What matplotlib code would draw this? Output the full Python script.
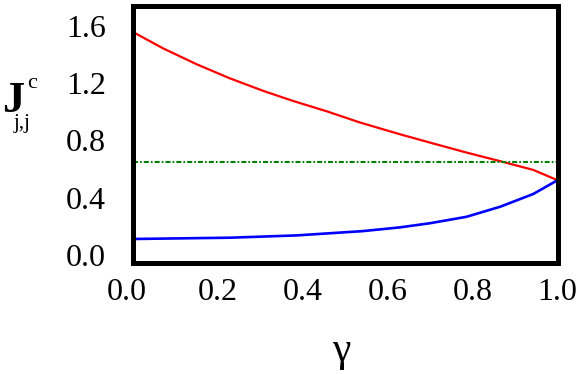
import matplotlib
matplotlib.use("Agg")
import matplotlib.pyplot as plt
import matplotlib.transforms as mtransforms

# values
gamma_red = [0.0, 0.072, 0.151, 0.229, 0.308, 0.378, 0.457, 0.535, 0.629,
             0.708, 0.786, 0.865, 0.943, 1.0]
j_red = [1.558, 1.442, 1.331, 1.233, 1.145, 1.075, 1.003, 0.925, 0.843,
         0.778, 0.715, 0.655, 0.594, 0.522]

gamma_blue = [0.0, 0.229, 0.386, 0.542, 0.629, 0.700, 0.786, 0.865, 0.943, 1.0]
j_blue = [0.112, 0.121, 0.137, 0.167, 0.193, 0.222, 0.267, 0.337, 0.426, 0.522]

j_green = 0.647

xticks = [0.0, 0.2, 0.4, 0.6, 0.8, 1.0]
yticks = [0.0, 0.4, 0.8, 1.2, 1.6]

plt.rcParams["font.family"] = ["Liberation Serif", "DejaVu Serif"]

fig = plt.figure(figsize=(5.81, 3.74), dpi=100)
ax = fig.add_axes([132.5 / 581, 1 - 262.5 / 374, (557.5 - 132.5) / 581,
                   (262.5 - 5.8) / 374])

ax.plot(gamma_red, j_red, color="#ff0000", lw=1.6)
ax.plot(gamma_blue, j_blue, color="#0000ff", lw=1.9)
ax.axhline(j_green, color="#008000", lw=1.5, dashes=(2.4, 1.0, 0.8, 1.0))

ax.set_xlim(0, 1)
ax.set_ylim(-0.052, 1.739)
ax.set_xticks(xticks)
ax.set_xticklabels([f"{t:.1f}" for t in xticks])
ax.set_yticks(yticks)
ax.set_yticklabels([f"{t:.1f}" for t in yticks])
ax.tick_params(length=0, labelsize=23)
ax.tick_params(axis="x", pad=11)
ax.tick_params(axis="y", pad=19)
for s in ax.spines.values():
    s.set_linewidth(3.6)

# the "0.0" under the x axis sits a little left of its tick
lbl0 = ax.get_xticklabels()[0]
lbl0.set_transform(lbl0.get_transform() +
                   mtransforms.ScaledTranslation(-6 / 100, 0, fig.dpi_scale_trans))

# axis labels
fig.text(341 / 581, 1 - 351 / 374, "γ", fontsize=30, ha="center", va="center")
fig.text(2 / 581, 1 - 112 / 374, "J", fontsize=32, fontweight="bold",
         ha="left", va="baseline")
fig.text(14 / 581, 1 - 114 / 374, "j,j", fontsize=15, ha="left", va="top")
fig.text(27 / 581, 1 - 84 / 374, "c", fontsize=16, ha="left", va="center")

plt.savefig("out.png", dpi=100)
